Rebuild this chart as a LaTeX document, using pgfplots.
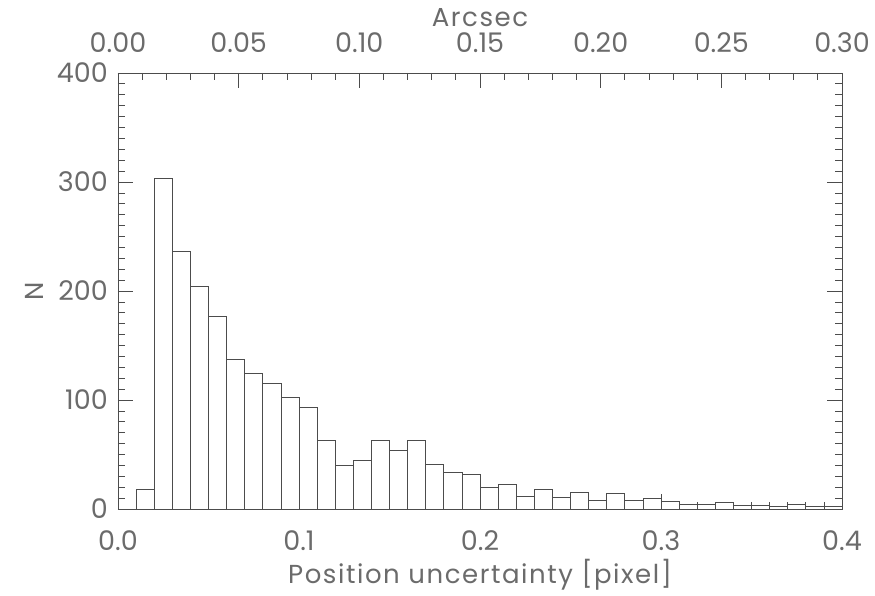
\documentclass[border=0pt]{standalone}
\usepackage{fontspec}
\setmainfont{Poppins}
\newfontfamily\labelfont{Poppins}[LetterSpace=6]
\usepackage{pgfplots}
\pgfplotsset{compat=1.18}
\definecolor{ink}{gray}{0.3}
\definecolor{txt}{gray}{0.42}

\pgfplotstableread{
left  n
0.01  18
0.02  303
0.03  236
0.04  204
0.05  177
0.06  137
0.07  124
0.08  115
0.09  102
0.10  93
0.11  63
0.12  40
0.13  45
0.14  63
0.15  54
0.16  63
0.17  41
0.18  34
0.19  32
0.20  20
0.21  23
0.22  12
0.23  18
0.24  11
0.25  15
0.26  8
0.27  14
0.28  8
0.29  10
0.30  7
0.31  4
0.32  4
0.33  6
0.34  3
0.35  3
0.36  2
0.37  4
0.38  2
0.39  2
0.40  2
}\histdata

\pgfplotsset{
  idl/.style={
    width=724pt, height=436pt, scale only axis,
    at={(0,0)}, anchor=south west,
    tick align=inside,
    major tick length=15pt, minor tick length=7.5pt,
    axis line style={ink, line width=0.8pt},
    every tick/.style={ink, line width=0.8pt},
    tick label style={txt, font=\fontsize{27}{31}\selectfont, inner sep=0pt},
    label style={txt, font=\labelfont\fontsize{26}{30}\selectfont, inner sep=0pt},
    /pgf/number format/assume math mode=true,
    scaled ticks=false,
  },
}

\begin{document}
\begin{tikzpicture}
\useasboundingbox (-118pt,-86pt) rectangle (757pt,509pt);
% bottom axis: pixel units
\begin{axis}[
    idl,
    xmin=0, xmax=0.4, ymin=0, ymax=400,
    xtick={0,0.1,...,0.4}, ytick={0,100,...,400},
    minor x tick num=9, minor y tick num=9,
    xtick pos=bottom, ytick pos=both, yticklabel pos=left,
    xticklabel style={anchor=north, yshift=-21pt,
      /pgf/number format/.cd, fixed, fixed zerofill, precision=1},
    yticklabel style={anchor=east, xshift=-10pt,
      /pgf/number format/.cd, fixed, precision=0},
    xlabel={Position uncertainty [pixel]},
    xlabel style={at={(axis description cs:0.5,0)}, anchor=base, yshift=-74pt},
    ylabel={N},
    % label is rotated by 90 degrees, so its local y points to the left
    ylabel style={at={(axis description cs:0,0.5)}, anchor=center, yshift=84pt},
]
\addplot[ybar interval, draw=ink, line width=0.8pt, fill=none] table[x=left, y=n] {\histdata};
\end{axis}
% top axis: arcsec
\begin{axis}[
    idl,
    xmin=0, xmax=0.3, ymin=0, ymax=400,
    hide y axis,
    axis x line*=top,
    axis line style={-},
    xtick={0,0.05,...,0.3}, minor x tick num=4,
    xticklabel style={anchor=south, yshift=20pt,
      /pgf/number format/.cd, fixed, fixed zerofill, precision=2},
    xlabel={Arcsec},
    xlabel style={at={(axis description cs:0.5,1)}, anchor=base, yshift=46pt},
]
\end{axis}
\end{tikzpicture}
\end{document}
